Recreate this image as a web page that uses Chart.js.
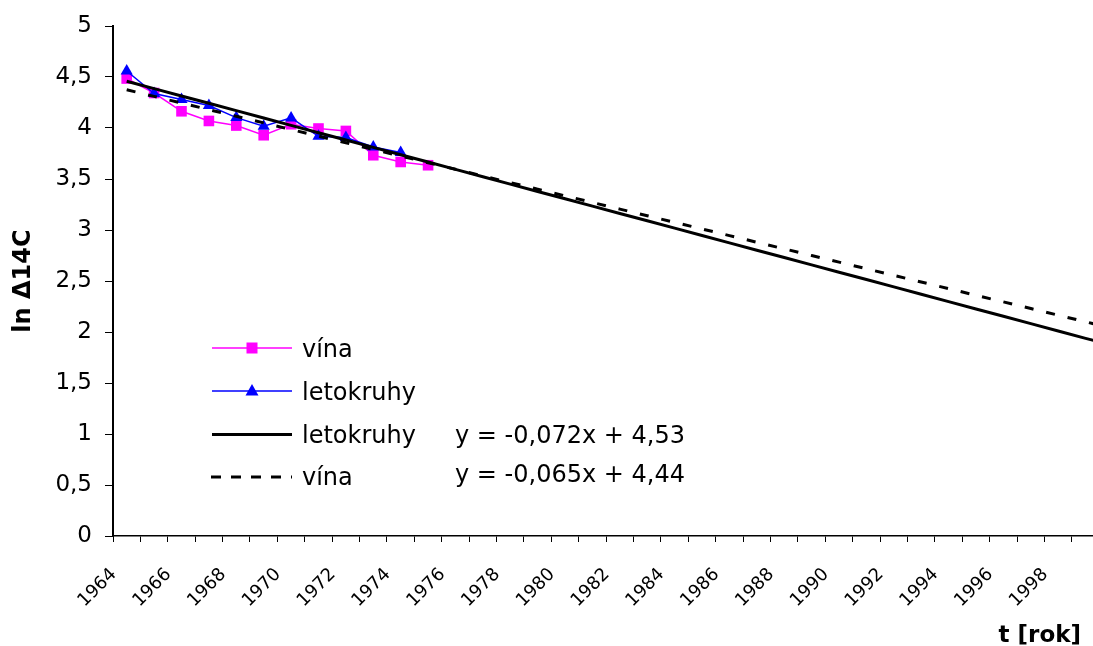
<!DOCTYPE html>
<html><head><meta charset="utf-8">
<script src="https://cdn.jsdelivr.net/npm/chart.js@4.4.0/dist/chart.umd.min.js"></script>
<style>html,body{margin:0;padding:0;background:#fff;overflow:hidden}</style>
</head><body>
<canvas id="c" width="1093" height="646"></canvas>
<script>
// ---- data ----
const years = [1964, 1965, 1966, 1967, 1968, 1969, 1970, 1971, 1972, 1973, 1974, 1975];
const vina = [4.485, 4.343, 4.164, 4.069, 4.024, 3.929, 4.037, 3.995, 3.971, 3.733, 3.667, 3.635];
const letokruhy = [4.559, 4.338, 4.279, 4.220, 4.102, 4.017, 4.099, 3.919, 3.907, 3.814, 3.759];
const trendNames = ['letokruhy', 'vína'];
const trendSlopes = [-0.072, -0.065];
const trendIntercepts = [4.53, 4.44];
const trendFirstYear = 1964;   // x = 1 in the trend equation
const trendLastYear = 2000;
const xTickLabels = ['1964','1966','1968','1970','1972','1974','1976','1978','1980','1982','1984','1986','1988','1990','1992','1994','1996','1998'];
const yTickValues = [0, 0.5, 1, 1.5, 2, 2.5, 3, 3.5, 4, 4.5, 5];
const xMin = 1963.5, xMax = 1999.27;

const trendYears = [];
for (let y = trendFirstYear; y <= trendLastYear; y++) trendYears.push(y);
function trendData(i) {
  return trendYears.map(yr => ({ x: yr, y: trendSlopes[i] * (yr - trendFirstYear + 1) + trendIntercepts[i] }));
}
const fmt = v => String(v).replace('.', ',');
function eqText(i) {
  const s = trendSlopes[i].toFixed(3).replace('.', ',');
  const b = trendIntercepts[i].toFixed(2).replace('.', ',');
  return 'y = ' + s + 'x + ' + b;
}

const PINK = '#FF00FF', BLUE = '#0000FF';
const FONT = '"DejaVu Sans", "Liberation Sans", sans-serif';

const overlay = {
  id: 'overlay',
  afterDraw(chart) {
    const ctx = chart.ctx;
    ctx.save();
    ctx.fillStyle = '#000';
    ctx.textBaseline = 'alphabetic';
    ctx.textAlign = 'left';
    ctx.font = '24px ' + FONT;
    const x0 = 212, x1 = 292, xm = 252, tx = 302;
    // row 1: vína (pink squares)
    ctx.strokeStyle = PINK; ctx.lineWidth = 1.5; ctx.setLineDash([]);
    ctx.beginPath(); ctx.moveTo(x0, 348); ctx.lineTo(x1, 348); ctx.stroke();
    ctx.fillStyle = PINK; ctx.fillRect(xm - 5.5, 348 - 5.5, 11, 11);
    ctx.fillStyle = '#000'; ctx.fillText('vína', tx, 357);
    // row 2: letokruhy (blue triangles)
    ctx.strokeStyle = BLUE; ctx.lineWidth = 1.5;
    ctx.beginPath(); ctx.moveTo(x0, 391); ctx.lineTo(x1, 391); ctx.stroke();
    ctx.fillStyle = BLUE;
    ctx.beginPath(); ctx.moveTo(xm, 391 - 7); ctx.lineTo(xm + 6.5, 391 + 4.5); ctx.lineTo(xm - 6.5, 391 + 4.5); ctx.closePath(); ctx.fill();
    ctx.fillStyle = '#000'; ctx.fillText('letokruhy', tx, 400);
    // row 3: trend letokruhy (solid)
    ctx.strokeStyle = '#000'; ctx.lineWidth = 3;
    ctx.beginPath(); ctx.moveTo(x0, 434.5); ctx.lineTo(x1, 434.5); ctx.stroke();
    ctx.fillText(trendNames[0], tx, 443);
    // row 4: trend vína (dashed)
    ctx.setLineDash([10, 10]);
    ctx.beginPath(); ctx.moveTo(x0 - 1, 477); ctx.lineTo(x1, 477); ctx.stroke();
    ctx.setLineDash([]);
    ctx.fillText(trendNames[1], tx, 485);
    // equations
    ctx.fillText(eqText(0), 455, 443);
    ctx.fillText(eqText(1), 455, 482);
    // x axis title
    ctx.font = 'bold 23px ' + FONT;
    ctx.textAlign = 'right';
    ctx.fillText('t [rok]', 1081, 642);
    ctx.restore();
  }
};

new Chart(document.getElementById('c'), {
  type: 'line',
  data: {
    datasets: [
      { label: 'vína', data: years.map((y, i) => ({ x: y, y: vina[i] })),
        borderColor: PINK, backgroundColor: PINK, borderWidth: 1.5,
        pointStyle: 'rect', pointRadius: 7.5, pointBorderWidth: 0, tension: 0, order: 4 },
      { label: 'letokruhy', data: letokruhy.map((v, i) => ({ x: years[i], y: v })),
        borderColor: BLUE, backgroundColor: BLUE, borderWidth: 1.5,
        pointStyle: 'triangle', pointRadius: 7, pointBorderWidth: 0, tension: 0, order: 3 },
      { label: trendNames[1], data: trendData(1), borderColor: '#000', borderWidth: 3,
        borderDash: [9, 13], pointRadius: 0, tension: 0, order: 2 },
      { label: trendNames[0], data: trendData(0), borderColor: '#000', borderWidth: 3,
        pointRadius: 0, tension: 0, order: 1 }
    ]
  },
  options: {
    responsive: false,
    animation: false,
    layout: { autoPadding: false, padding: { top: 26, right: 0, bottom: 0, left: 0 } },
    plugins: { legend: { display: false }, tooltip: { enabled: false } },
    scales: {
      x: {
        type: 'linear', min: xMin, max: xMax,
        afterBuildTicks: s => {
          const t = [];
          for (let v = xMin; v <= xMax + 1e-9; v += 0.5) t.push({ value: v });
          s.ticks = t;
        },
        afterFit: s => { s.height = 110; s.paddingLeft = 0; s.paddingRight = 0; },
        grid: {
          drawOnChartArea: false, tickLength: 6, tickWidth: 1,
          tickColor: c => (c.tick && Math.abs(c.tick.value % 1) === 0.5) ? '#000' : 'rgba(0,0,0,0)'
        },
        border: { color: '#000', width: 1.5 },
        ticks: {
          autoSkip: false, minRotation: 45, maxRotation: 45, padding: 22, labelOffset: -13,
          color: '#000', font: { family: FONT, size: 18 },
          callback: v => (Number.isInteger(v) && xTickLabels.includes(String(v))) ? String(v) : ''
        }
      },
      y: {
        min: 0, max: 5,
        afterBuildTicks: s => { s.ticks = yTickValues.map(v => ({ value: v })); },
        afterFit: s => { s.width = 113; s.paddingTop = 0; s.paddingBottom = 0; },
        grid: { drawOnChartArea: false, tickLength: 8, tickColor: '#000', tickWidth: 1 },
        border: { color: '#000', width: 2 },
        ticks: { color: '#000', padding: 13, font: { family: FONT, size: 23 }, callback: v => fmt(v) },
        title: { display: true, text: 'ln Δ14C', color: '#000', padding: { top: 9, bottom: 0 },
                 font: { family: FONT, size: 24, weight: 'bold' } }
      }
    }
  },
  plugins: [overlay]
});
</script>
</body></html>
